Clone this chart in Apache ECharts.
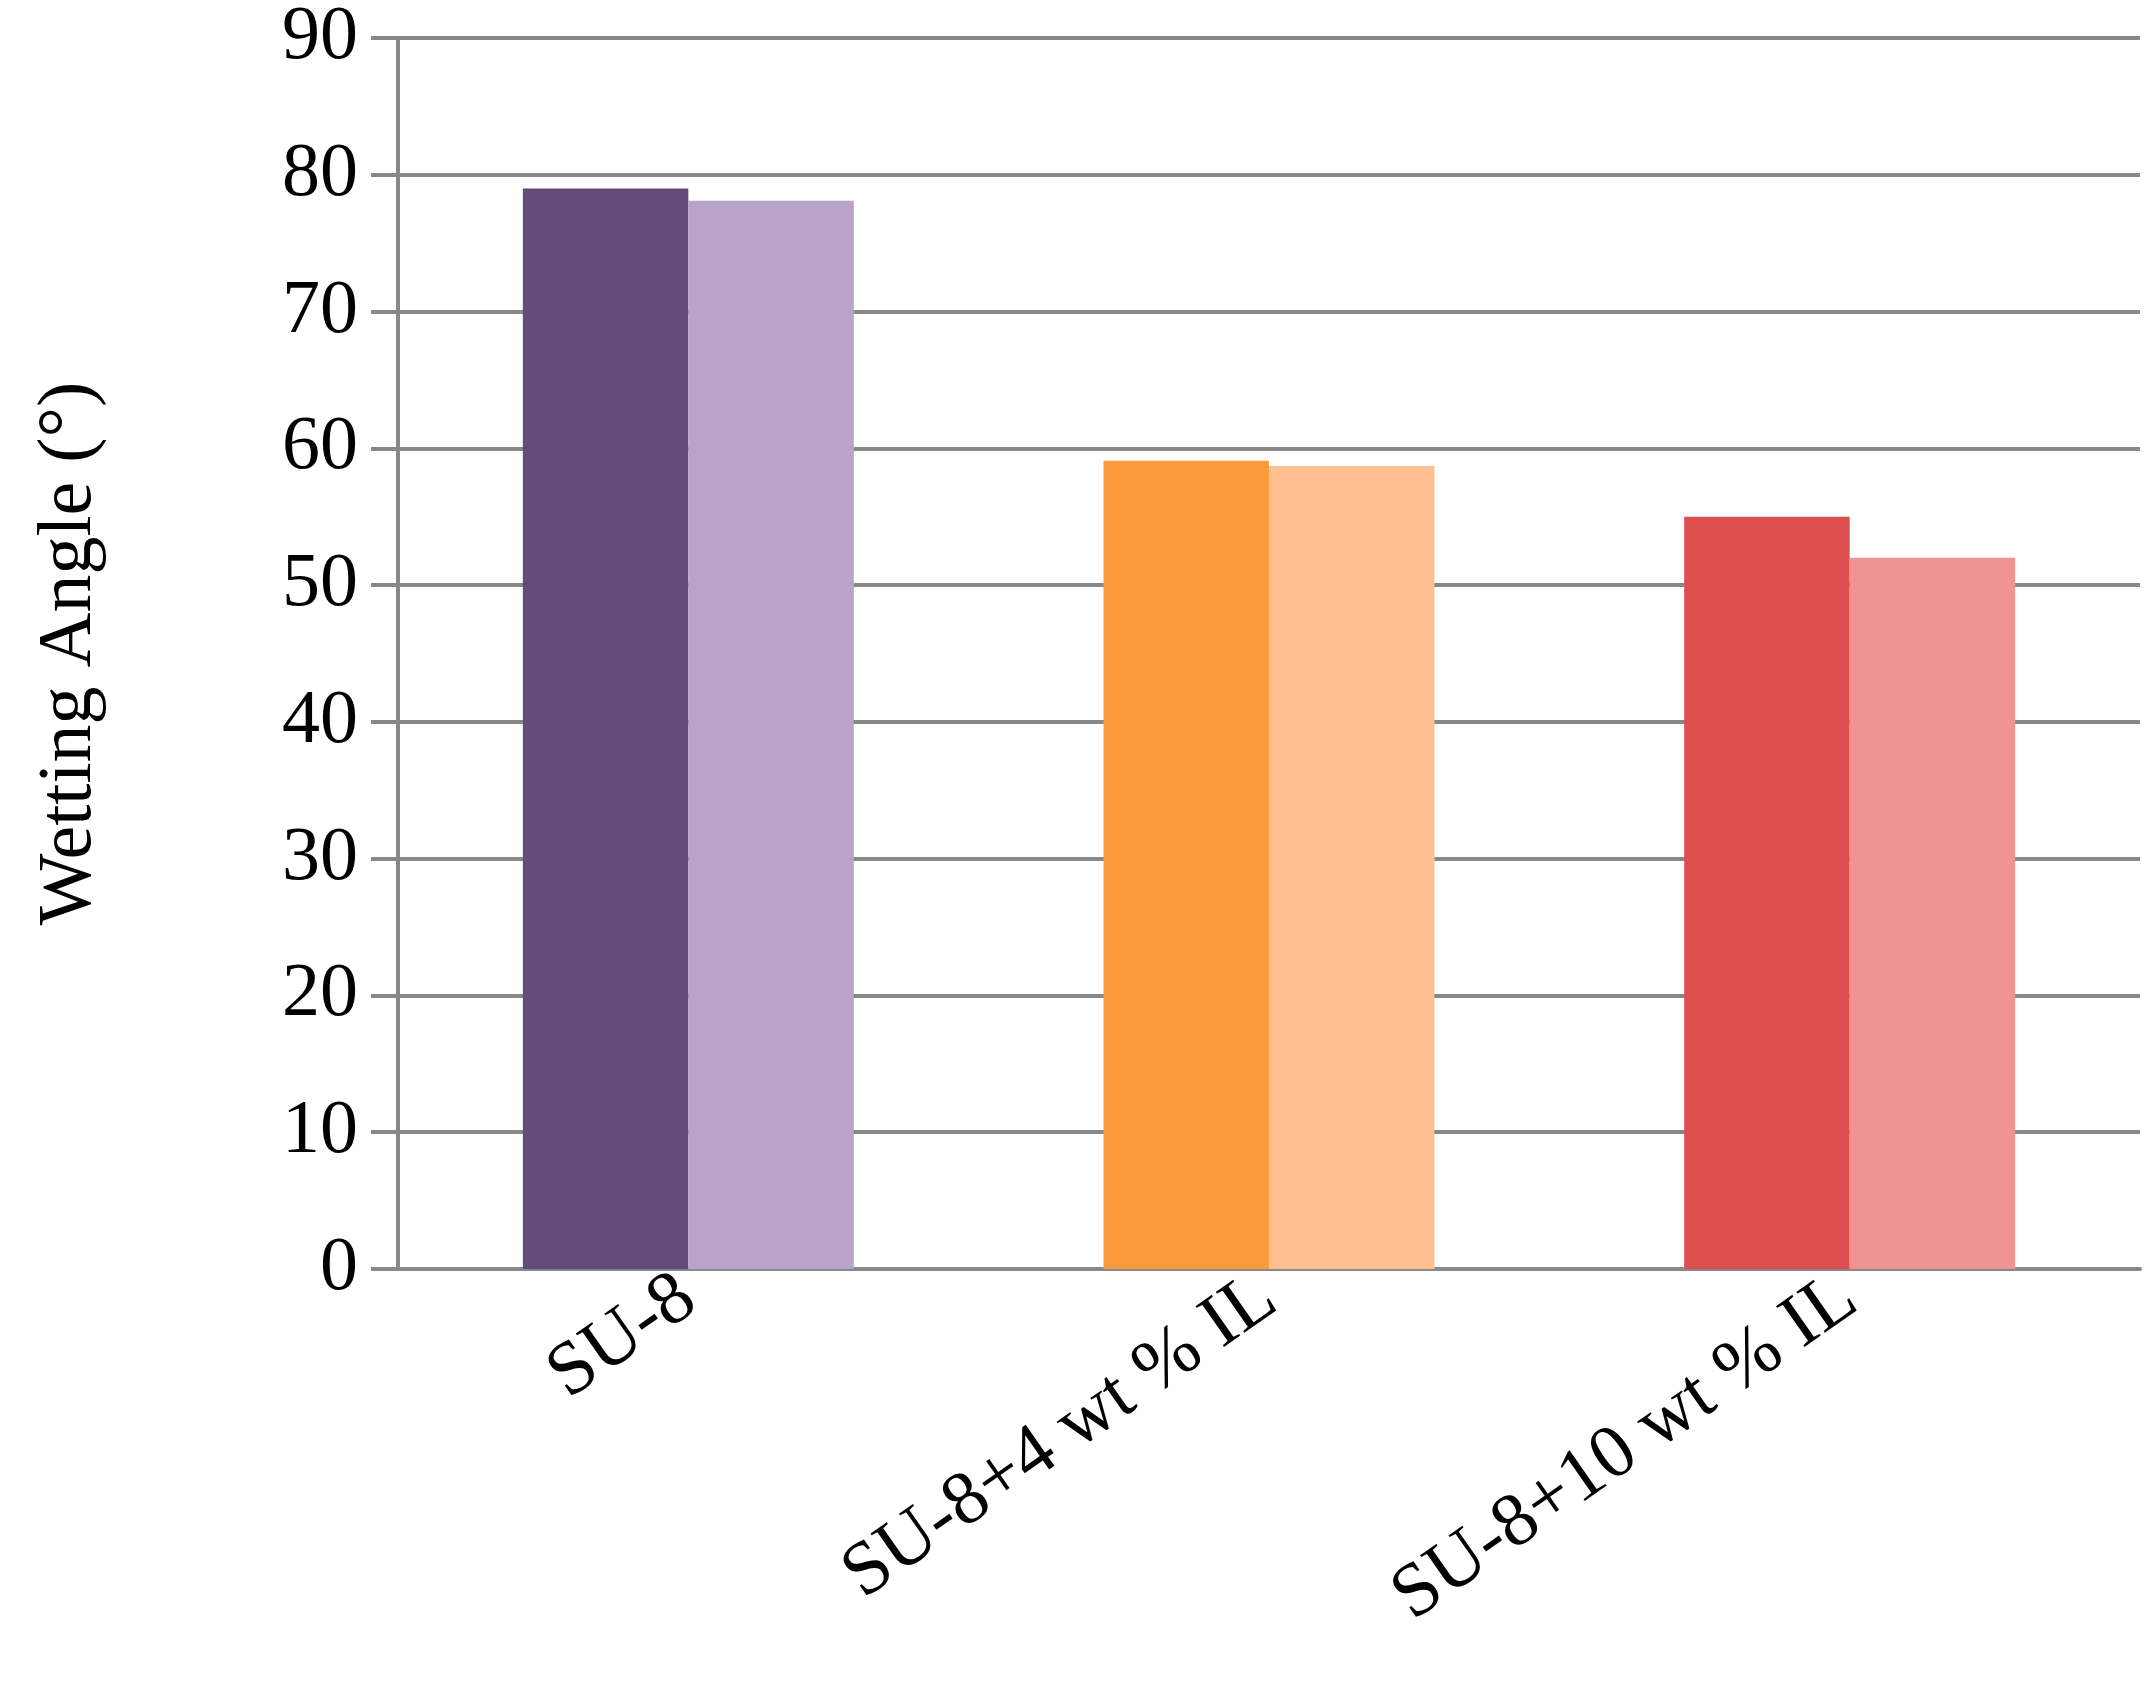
<!DOCTYPE html>
<html><head><meta charset="utf-8">
<script src="https://cdn.jsdelivr.net/npm/echarts@6/dist/echarts.min.js"></script>
<style>html,body{margin:0;padding:0;background:#fff}#c{width:2151px;height:1697px}</style>
</head><body><div id="c"></div>
<script>
const categories = ['SU-8', 'SU-8+4 wt % IL', 'SU-8+10 wt % IL'];
const seriesA = [79, 59.1, 55];
const seriesB = [78.1, 58.7, 52];
const colorsA = ['#654a7c', '#fd9a3e', '#dc4f4e'];
const colorsB = ['#baa3c8', '#fec090', '#ef9492'];
const yTicks = [0, 90, 10];
const font = 'Liberation Serif';
const chart = echarts.init(document.getElementById('c'));
chart.setOption({
  animation: false,
  grid: {left: 398, right: 11, top: 30, bottom: 428, containLabel: false},
  xAxis: {
    type: 'category', data: categories,
    axisLine: {lineStyle: {color: '#888', width: 4}},
    axisTick: {show: false},
    axisLabel: {rotate: 35, fontFamily: font, fontSize: 76, color: '#000', margin: 22, interval: 0}
  },
  yAxis: {
    type: 'value', min: yTicks[0], max: yTicks[1], interval: yTicks[2],
    name: 'Wetting Angle (°)', nameLocation: 'middle', nameGap: 290,
    nameTextStyle: {fontFamily: font, fontSize: 76, color: '#000'},
    axisLine: {show: true, lineStyle: {color: '#888', width: 4}},
    axisTick: {show: true, length: 27, lineStyle: {color: '#888', width: 4}},
    axisLabel: {fontFamily: font, fontSize: 76, color: '#000', margin: 40},
    splitLine: {lineStyle: {color: '#888', width: 4}}
  },
  series: [
    {type: 'bar', barGap: '0%', barCategoryGap: '43%',
     data: seriesA.map((v, i) => ({value: v, itemStyle: {color: colorsA[i]}}))},
    {type: 'bar',
     data: seriesB.map((v, i) => ({value: v, itemStyle: {color: colorsB[i]}}))}
  ]
});
</script></body></html>
